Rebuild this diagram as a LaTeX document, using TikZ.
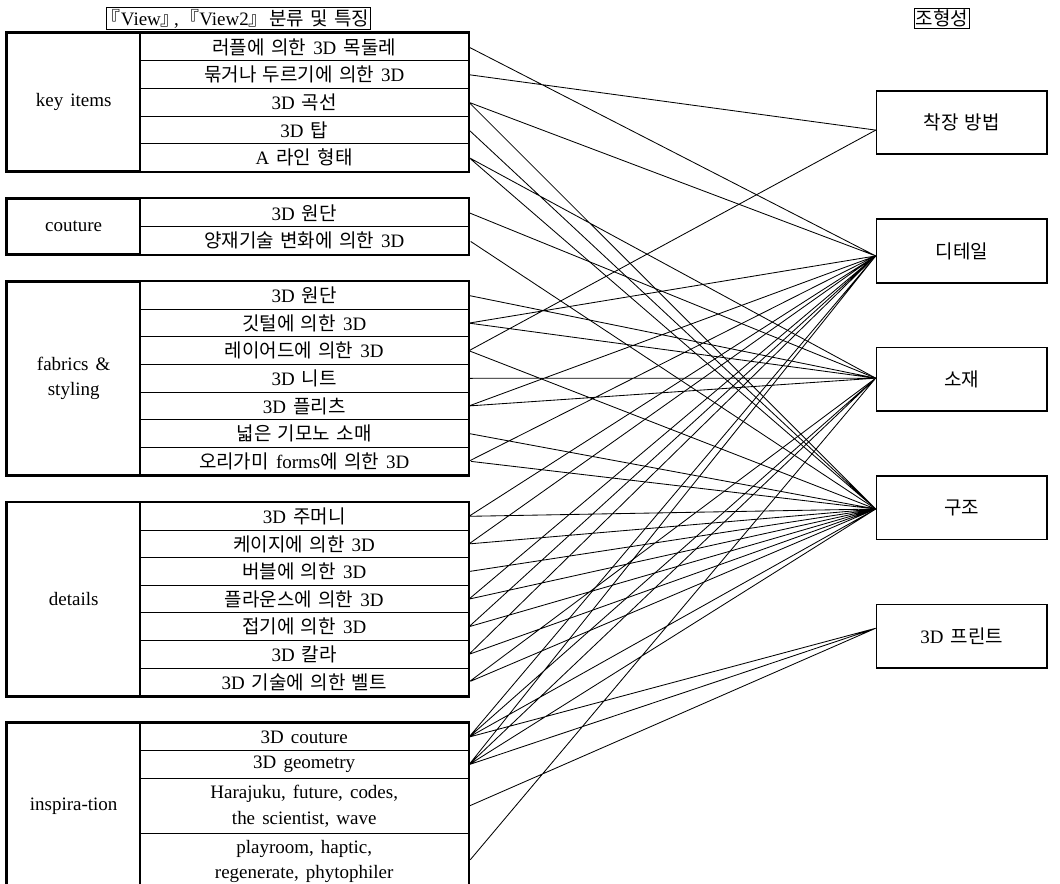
\documentclass[tikz,border=0pt]{standalone}
\usepackage{fontspec}
\setmainfont{Liberation Serif}[WordSpace=1.5]
\newfontfamily\hangul{Noto Sans CJK KR}[WordSpace=1.5]
\usetikzlibrary{positioning, fit}

\newcommand{\hg}[1]{{\hangul #1}}
\newcommand{\lbr}{{\hangul\kern-0.3em『}}
\newcommand{\rbr}{{\hangul 』\kern-0.3em}}

\begin{document}
\begin{tikzpicture}[x=0.025cm, y=-0.025cm, node distance=0.69cm, on grid,
        font=\fontsize{13.5}{18}\selectfont,
        cell/.style={draw, line width=0.7pt, minimum width=8.21cm, minimum height=0.69cm, inner sep=0pt, align=center},
        group/.style={draw, line width=1.3pt, minimum width=3.32cm, inner sep=0pt, align=center},
        frame/.style={draw, line width=1.3pt, inner sep=0pt},
        target/.style={draw, line width=1.2pt, minimum width=4.26cm, minimum height=1.59cm},
        heading/.style={draw, line width=0.5pt, inner sep=1pt},
        link/.style={line width=0.6pt, shorten <=1.5pt, shorten >=1.5pt}]

    \useasboundingbox (0,0) rectangle (1060,883);

    % headings
    \node[heading] (head-left) at (238.5,18.5) {\lbr View\rbr, \lbr View2\rbr\ \hg{분류 및 특징}};
    \node[heading] (head-right) at (942,18.5) {\hg{조형성}};

    % key items
    \node[group, minimum height=3.45cm] (keys) at (73.7,102.3) {key items};
    \node[cell] (k1) at (304.2,47.1) {\hg{러플에 의한} 3D \hg{목둘레}};
    \node[cell] (k2) [below=of k1] {\hg{묶거나 두르기에 의한} 3D};
    \node[cell] (k3) [below=of k2] {3D \hg{곡선}};
    \node[cell] (k4) [below=of k3] {3D \hg{탑}};
    \node[cell] (k5) [below=of k4] {A \hg{라인 형태}};
    \node[frame, fit=(keys)(k1)(k5)] (keys-frame) {};

    % couture
    \node[group, minimum height=1.38cm] (couture) at (73.7,226.5) {couture};
    \node[cell] (c1) at (304.2,212.7) {3D \hg{원단}};
    \node[cell] (c2) [below=of c1] {\hg{양재기술 변화에 의한} 3D};
    \node[frame, fit=(couture)(c1)(c2)] (couture-frame) {};

    % fabrics & styling
    \node[group, minimum height=4.83cm] (fabrics) at (73.7,378.3) {fabrics \&\\ styling};
    \node[cell] (f1) at (304.2,295.5) {3D \hg{원단}};
    \node[cell] (f2) [below=of f1] {\hg{깃털에 의한} 3D};
    \node[cell] (f3) [below=of f2] {\hg{레이어드에 의한} 3D};
    \node[cell] (f4) [below=of f3] {3D \hg{니트}};
    \node[cell] (f5) [below=of f4] {3D \hg{플리츠}};
    \node[cell] (f6) [below=of f5] {\hg{넓은 기모노 소매}};
    \node[cell] (f7) [below=of f6] {\hg{오리가미} forms\hg{에 의한} 3D};
    \node[frame, fit=(fabrics)(f1)(f7)] (fabrics-frame) {};

    % details
    \node[group, minimum height=4.83cm] (details) at (73.7,599.1) {details};
    \node[cell] (d1) at (304.2,516.3) {3D \hg{주머니}};
    \node[cell] (d2) [below=of d1] {\hg{케이지에 의한} 3D};
    \node[cell] (d3) [below=of d2] {\hg{버블에 의한} 3D};
    \node[cell] (d4) [below=of d3] {\hg{플라운스에 의한} 3D};
    \node[cell] (d5) [below=of d4] {\hg{접기에 의한} 3D};
    \node[cell] (d6) [below=of d5] {3D \hg{칼라}};
    \node[cell] (d7) [below=of d6] {3D \hg{기술에 의한 벨트}};
    \node[frame, fit=(details)(d1)(d7)] (details-frame) {};

    % inspiration
    \node[group, minimum height=4.14cm] (inspiration) at (73.7,806.1) {inspira-tion};
    \node[cell] (i1) at (304.2,737.1) {3D couture};
    \node[cell] (i2) [below=of i1] {3D geometry};
    \node[cell, minimum height=1.38cm] (i3) [below=1.035cm of i2] {Harajuku, future, codes,\\ the scientist, wave};
    \node[cell, minimum height=1.38cm] (i4) [below=1.38cm of i3] {playroom, haptic,\\ regenerate, phytophiler};
    \node[frame, fit=(inspiration)(i1)(i4)] (inspiration-frame) {};

    % 조형성
    \node[target] (wear) at (961.8,122.5) {\hg{착장 방법}};
    \node[target] (detail) [below=3.21cm of wear] {\hg{디테일}};
    \node[target] (material) [below=3.21cm of detail] {\hg{소재}};
    \node[target] (struct) [below=3.21cm of material] {\hg{구조}};
    \node[target] (print) [below=3.21cm of struct] {3D \hg{프린트}};

    \coordinate (wear-in) at ([yshift=-0.19cm]wear.west);
    \coordinate (detail-in) at ([yshift=-0.125cm]detail.west);
    \coordinate (material-in) at ([yshift=0.03cm]material.west);
    \coordinate (struct-in) at ([yshift=-0.03cm]struct.west);
    \coordinate (print-in) at ([yshift=0.2cm]print.west);

    % links
    \draw[link] (k1.east) -- (detail-in)  (k2.east) -- (wear-in)
                (k3.east) -- (detail-in)  (k3.east) -- (struct-in)
                (k4.east) -- (struct-in)
                (k5.east) -- (material-in)  (k5.east) -- (struct-in);
    \draw[link] (c1.east) -- (material-in)  (c2.east) -- (struct-in);
    \draw[link] (f1.east) -- (material-in)
                (f2.east) -- (detail-in)  (f2.east) -- (material-in)
                (f3.east) -- (wear-in)  (f3.east) -- (struct-in)
                (f4.east) -- (material-in)
                (f5.east) -- (detail-in)  (f5.east) -- (material-in)
                (f6.east) -- (struct-in)
                (f7.east) -- (detail-in)  (f7.east) -- (struct-in);
    \draw[link] (d1.east) -- (detail-in)  (d1.east) -- (struct-in)
                (d2.east) -- (detail-in)  (d2.east) -- (struct-in)
                (d3.east) -- (struct-in)
                (d4.east) -- (detail-in)  (d4.east) -- (struct-in)
                (d5.east) -- (detail-in)  (d5.east) -- (struct-in)
                (d6.east) -- (detail-in)  (d6.east) -- (struct-in)
                (d7.east) -- (material-in)  (d7.east) -- (struct-in);
    \draw[link] (i1.east) -- (detail-in)  (i1.east) -- (material-in)
                (i1.east) -- (struct-in)  (i1.east) -- (print-in)
                (i2.east) -- (detail-in)  (i2.east) -- (material-in)
                (i2.east) -- (struct-in)  (i2.east) -- (print-in)
                (i3.east) -- (print-in)
                (i4.east) -- (material-in);
\end{tikzpicture}
\end{document}
